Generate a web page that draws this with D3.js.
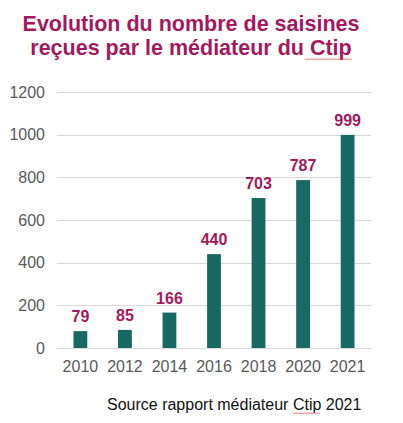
<!DOCTYPE html>
<html>
<head>
<meta charset="utf-8">
<script src="https://cdn.jsdelivr.net/npm/d3@7"></script>
<style>
  body { margin: 0; background: #fff; }
  svg { display: block; font-family: "Liberation Sans", Arial, sans-serif; }
</style>
</head>
<body>
<svg id="chart" width="403" height="423"></svg>
<script>
var years = ["2010", "2012", "2014", "2016", "2018", "2020", "2021"];
var saisines = [79, 85, 166, 440, 703, 787, 999];
var yTicks = [0, 200, 400, 600, 800, 1000, 1200];
var titleLines = ["Evolution du nombre de saisines", "reçues par le médiateur du Ctip"];
var sourceText = "Source rapport médiateur Ctip 2021";

var svg = d3.select("#chart");
var margin = { left: 57, right: 32, top: 92, bottom: 75 };
var w = 403, h = 423;

var x = d3.scaleBand()
  .domain(years)
  .range([margin.left, w - margin.right])
  .paddingInner(0.69)
  .paddingOuter(0.37);

var y = d3.scaleLinear()
  .domain([0, 1200])
  .range([h - margin.bottom, margin.top]);

// title
svg.selectAll("text.title")
  .data(titleLines)
  .enter().append("text")
  .attr("class", "title")
  .attr("x", 191)
  .attr("y", function (d, i) { return 31 + i * 23.5; })
  .attr("text-anchor", "middle")
  .style("font-size", "21.5px")
  .style("font-weight", "bold")
  .style("fill", "#a3195b")
  .text(function (d) { return d; });

// gridlines
svg.append("g")
  .selectAll("line")
  .data(yTicks)
  .enter().append("line")
  .attr("x1", margin.left)
  .attr("x2", w - margin.right)
  .attr("y1", function (d) { return Math.round(y(d)) + 0.5; })
  .attr("y2", function (d) { return Math.round(y(d)) + 0.5; })
  .style("stroke", "#d9d9d9")
  .style("stroke-width", "1px");

// y axis labels
var yAxis = d3.axisLeft(y).tickValues(yTicks).tickFormat(d3.format("d"))
  .tickSize(0).tickPadding(0);
var gy = svg.append("g")
  .attr("transform", "translate(" + (margin.left - 12) + ",0)")
  .call(yAxis);
gy.select(".domain").remove();
gy.selectAll("text")
  .style("font-size", "16px")
  .style("font-family", "Liberation Sans, Arial, sans-serif")
  .style("fill", "#595959");

// x axis labels
var xAxis = d3.axisBottom(x).tickSize(0).tickPadding(13);
var gx = svg.append("g")
  .attr("transform", "translate(0," + y(0) + ")")
  .call(xAxis);
gx.select(".domain").remove();
gx.selectAll("text")
  .style("font-size", "16px")
  .style("font-family", "Liberation Sans, Arial, sans-serif")
  .style("fill", "#595959");

// bars
svg.append("g")
  .selectAll("rect")
  .data(saisines)
  .enter().append("rect")
  .attr("x", function (d, i) { return x(years[i]); })
  .attr("width", x.bandwidth())
  .attr("y", function (d) { return y(d); })
  .attr("height", function (d) { return y(0) - y(d); })
  .style("fill", "#186962");

// value labels
svg.append("g")
  .selectAll("text")
  .data(saisines)
  .enter().append("text")
  .attr("x", function (d, i) { return x(years[i]) + x.bandwidth() / 2; })
  .attr("y", function (d) { return y(d) - 9; })
  .attr("text-anchor", "middle")
  .style("font-size", "16px")
  .style("font-weight", "bold")
  .style("fill", "#a3195b")
  .text(function (d) { return d; });

// source
svg.append("text")
  .attr("x", 107)
  .attr("y", 410)
  .style("font-size", "16px")
  .style("fill", "#111")
  .text(sourceText);

// spell-check squiggle under "Ctip" in the title and source
function squiggle(x0, x1, yy) {
  var pts = [];
  for (var xx = x0, k = 0; xx <= x1; xx += 1.5, k++) {
    pts.push([xx, yy + (k % 2 ? 1 : -0.5)]);
  }
  svg.append("path")
    .attr("d", d3.line()(pts))
    .style("fill", "none")
    .style("stroke", "#e04848")
    .style("stroke-width", 0.8);
}
squiggle(305, 352, 59);
squiggle(293, 320, 413);
</script>
</body>
</html>
